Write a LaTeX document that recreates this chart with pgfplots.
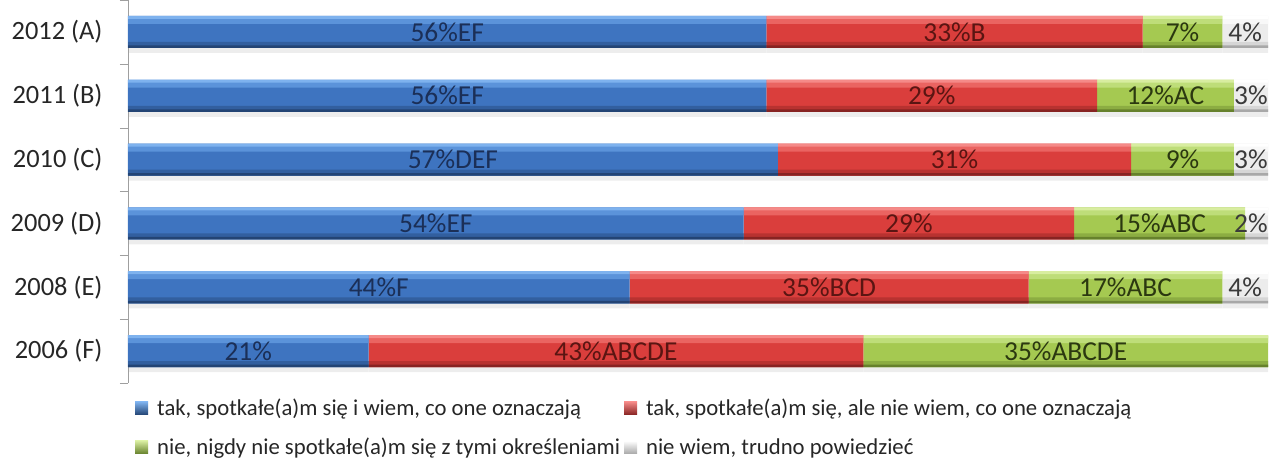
\documentclass[border=0pt]{standalone}
\usepackage{pgfplots}
\usepackage{pgfplotstable}
\pgfplotsset{compat=1.18}
\usepackage{fontspec}
\setmainfont{Carlito}
\definecolor{bluetop}{HTML}{7EB2EE}
\definecolor{bluehi}{HTML}{5B93DA}
\definecolor{bluemid}{HTML}{3E74C0}
\definecolor{bluelo}{HTML}{325F9F}
\definecolor{bluebot}{HTML}{234474}
\definecolor{redtop}{HTML}{F58A88}
\definecolor{redhi}{HTML}{EA6461}
\definecolor{redmid}{HTML}{DA3E3C}
\definecolor{redlo}{HTML}{B83230}
\definecolor{redbot}{HTML}{872322}
\definecolor{greentop}{HTML}{D8EDA0}
\definecolor{greenhi}{HTML}{BEDD79}
\definecolor{greenmid}{HTML}{A5C951}
\definecolor{greenlo}{HTML}{8CAD42}
\definecolor{greenbot}{HTML}{66812C}
\definecolor{greytop}{HTML}{FFFFFF}
\definecolor{greyhi}{HTML}{F8F8F8}
\definecolor{greymid}{HTML}{ECECEC}
\definecolor{greylo}{HTML}{D6D6D6}
\definecolor{greybot}{HTML}{A8A8A8}
\definecolor{bluelab}{HTML}{1B2F57}
\definecolor{redlab}{HTML}{5A1512}
\definecolor{greenlab}{HTML}{2B3810}
\definecolor{greylab}{HTML}{3A3A3A}
\pgfplotstableread{
y b r g w
0 21.1 43.4 35.5 0
1 44 35 17 4
2 54 29 15 2
3 57 31 9 3
4 56 29 12 3
5 56 33 7 4
}\data
\pgfplotsset{
  sqleg/.style 2 args={legend image code/.code={\path[top color=#1, bottom color=#2] (0bp,-6.5bp) rectangle (13bp,6.5bp);}},
  base/.style={at={(0,0)}, anchor=south west,
    scale only axis, width=1140bp, height=383bp,
    xmin=0, xmax=100, ymin=-0.5, ymax=5.5},
  strip/.style 2 args={base, axis lines=none, xbar stacked, bar width=#1, bar shift=#2},
}
\begin{document}
\begin{tikzpicture}
\useasboundingbox (-128bp,-81bp) rectangle (1141bp,383bp);
% soft shadow
\begin{axis}[strip={6bp}{-18bp}]
\addplot[draw=none, fill=black!7] table[x=b,y=y]{\data};
\addplot[draw=none, fill=black!7] table[x=r,y=y]{\data};
\addplot[draw=none, fill=black!7] table[x=g,y=y]{\data};
\addplot[draw=none, fill=black!7] table[x=w,y=y]{\data};
\end{axis}
\begin{axis}[
  base,
  xbar stacked, bar width=32bp,
  axis lines*=left,
  x axis line style={draw=none},
  y axis line style={draw=gray!75, -},
  xtick=\empty,
  ytick={0,1,2,3,4,5},
  yticklabels={2006 (F),2008 (E),2009 (D),2010 (C),2011 (B),2012 (A)},
  major tick length=0pt,
  minor ytick={-0.5,0.5,1.5,2.5,3.5,4.5,5.5},
  minor tick length=8bp,
  tick align=outside,
  minor tick style={draw=gray!75},
  yticklabel style={font=\fontsize{26.5}{30}\selectfont, text=black!85, xshift=-22bp},
  legend columns=2,
  legend cell align=left,
  legend style={at={(rel axis cs:0,0)}, anchor=north west, xshift=7bp, yshift=-14bp,
    draw=none, fill=none, font=\fontsize{22.8}{27}\selectfont, text=black!85,
    row sep=17bp, inner sep=0pt,
    /tikz/every odd column/.append style={column sep=7bp},
    /tikz/every even column/.append style={column sep=2bp}},
]
\addplot[sqleg={bluetop}{bluebot}, draw=none, fill=bluemid] table[x=b,y=y]{\data};
\addlegendentry{tak, spotkałe(a)m się i wiem, co one oznaczają}
\addplot[sqleg={redtop}{redbot}, draw=none, fill=redmid] table[x=r,y=y]{\data};
\addlegendentry{tak, spotkałe(a)m się, ale nie wiem, co one oznaczają}
\addplot[sqleg={greentop}{greenbot}, draw=none, fill=greenmid] table[x=g,y=y]{\data};
\addlegendentry{nie, nigdy nie spotkałe(a)m się z tymi określeniami}
\addplot[sqleg={greytop}{greybot}, draw=none, fill=greymid] table[x=w,y=y]{\data};
\addlegendentry{nie wiem, trudno powiedzieć}
\end{axis}
% top highlight (broad)
\begin{axis}[strip={7bp}{11.5bp}]
\addplot[draw=none, fill=bluehi] table[x=b,y=y]{\data};
\addplot[draw=none, fill=redhi] table[x=r,y=y]{\data};
\addplot[draw=none, fill=greenhi] table[x=g,y=y]{\data};
\addplot[draw=none, fill=greyhi] table[x=w,y=y]{\data};
\end{axis}
% top highlight (narrow)
\begin{axis}[strip={3bp}{14.5bp}]
\addplot[draw=none, fill=bluetop] table[x=b,y=y]{\data};
\addplot[draw=none, fill=redtop] table[x=r,y=y]{\data};
\addplot[draw=none, fill=greentop] table[x=g,y=y]{\data};
\addplot[draw=none, fill=greytop] table[x=w,y=y]{\data};
\end{axis}
% bottom shade (broad)
\begin{axis}[strip={6bp}{-13bp}]
\addplot[draw=none, fill=bluelo] table[x=b,y=y]{\data};
\addplot[draw=none, fill=redlo] table[x=r,y=y]{\data};
\addplot[draw=none, fill=greenlo] table[x=g,y=y]{\data};
\addplot[draw=none, fill=greylo] table[x=w,y=y]{\data};
\end{axis}
% bottom shade (narrow)
\begin{axis}[strip={2.5bp}{-14.75bp}]
\addplot[draw=none, fill=bluebot] table[x=b,y=y]{\data};
\addplot[draw=none, fill=redbot] table[x=r,y=y]{\data};
\addplot[draw=none, fill=greenbot] table[x=g,y=y]{\data};
\addplot[draw=none, fill=greybot] table[x=w,y=y]{\data};
\end{axis}
% value labels
\begin{axis}[
  base, axis lines=none, clip=false,
  nodes near coords, point meta=explicit symbolic,
  every node near coord/.append style={anchor=center, inner sep=0pt, font=\fontsize{27.5}{30}\selectfont},
]
\addplot[draw=none, mark=none, every node near coord/.append style={text=bluelab}]
  coordinates {(10.55,0)[21\%] (22,1)[44\%F] (27,2)[54\%EF] (28.5,3)[57\%DEF] (28,4)[56\%EF] (28,5)[56\%EF]};
\addplot[draw=none, mark=none, every node near coord/.append style={text=redlab}]
  coordinates {(42.8,0)[43\%ABCDE] (61.5,1)[35\%BCD] (68.5,2)[29\%] (72.5,3)[31\%] (70.5,4)[29\%] (72.5,5)[33\%B]};
\addplot[draw=none, mark=none, every node near coord/.append style={text=greenlab}]
  coordinates {(82.25,0)[35\%ABCDE] (87.5,1)[17\%ABC] (90.5,2)[15\%ABC] (92.5,3)[9\%] (91,4)[12\%AC] (92.5,5)[7\%]};
\addplot[draw=none, mark=none, every node near coord/.append style={text=greylab}]
  coordinates {(98,1)[4\%] (98.5,2)[2\%] (98.5,3)[3\%] (98.5,4)[3\%] (98,5)[4\%]};
\end{axis}
\end{tikzpicture}
\end{document}
